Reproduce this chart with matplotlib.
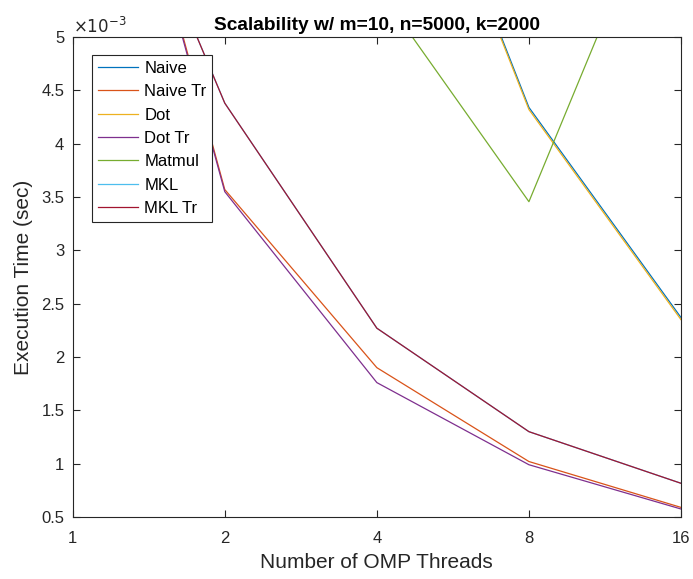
import numpy as np
import matplotlib
matplotlib.use("Agg")
import matplotlib.pyplot as plt
from matplotlib.ticker import FixedLocator, FuncFormatter

plt.rcParams['font.family'] = ['Liberation Sans', 'DejaVu Sans']
plt.rcParams['font.size'] = 10

# execution time in units of 1e-3 sec
threads = [1, 2, 4, 8, 16]
naive = [28.0, 15.0, 7.98, 4.34, 2.37]
naive_tr = [8.79, 3.57, 1.90, 1.02, 0.59]
dot = [27.8, 14.9, 7.95, 4.32, 2.35]
dot_tr = [8.75, 3.55, 1.76, 0.99, 0.575]
matmul = [16.0, 9.0, 5.47, 3.456, 6.90]
mkl = [7.77, 4.38, 2.27, 1.30, 0.816]
mkl_tr = [7.77, 4.38, 2.27, 1.30, 0.816]

labels = ["Naive", "Naive Tr", "Dot", "Dot Tr", "Matmul", "MKL", "MKL Tr"]
series = [naive, naive_tr, dot, dot_tr, matmul, mkl, mkl_tr]
colors = ["#0072BD", "#D95319", "#EDB120", "#7E2F8E", "#77AC30", "#4DBEEE", "#A2142F"]

fig = plt.figure(figsize=(6.93, 5.79), dpi=100)
ax = fig.add_axes([72.7 / 693, 62 / 579, 608.3 / 693, 480 / 579])

for vals, lab, col in zip(series, labels, colors):
    ax.plot(threads, vals, color=col, lw=0.9, label=lab)

ax.set_xscale("log", base=2)
ax.set_xlim(1, 16)
ax.set_ylim(0.5, 5)
ax.xaxis.set_major_locator(FixedLocator(threads))
ax.xaxis.set_major_formatter(FuncFormatter(lambda v, p: f"{v:g}"))
ax.xaxis.set_minor_locator(FixedLocator([]))
ax.yaxis.set_major_locator(FixedLocator(np.arange(0.5, 5.01, 0.5)))
ax.yaxis.set_major_formatter(FuncFormatter(lambda v, p: f"{v:g}"))

edge = "#262626"
for s in ax.spines.values():
    s.set_color(edge)
    s.set_linewidth(0.8)
ax.tick_params(direction="in", length=5, width=0.8, color=edge, labelcolor=edge,
               top=True, right=True, labelsize=12)
ax.tick_params(axis="x", pad=10)
ax.tick_params(axis="y", pad=6)

ax.set_title("Scalability w/ m=10, n=5000, k=2000", fontsize=13.8, fontweight="bold", pad=5)
ax.set_xlabel("Number of OMP Threads", fontsize=15, color=edge, labelpad=5)
ax.set_ylabel("Execution Time (sec)", fontsize=15, color=edge, labelpad=6)
ax.text(0, 1.003, r"$\times 10^{-3}$", transform=ax.transAxes, ha="left", va="bottom",
        fontsize=12, color=edge)

leg = ax.legend(loc="upper left", bbox_to_anchor=(19 / 608.3, 1 - 18 / 480), borderaxespad=0,
                fancybox=False, edgecolor=edge, framealpha=1, fontsize=12,
                handlelength=2.45, labelspacing=0.5, handletextpad=0.35, borderpad=0.35)
leg.get_frame().set_linewidth(0.8)

plt.savefig("out.png", dpi=100)
